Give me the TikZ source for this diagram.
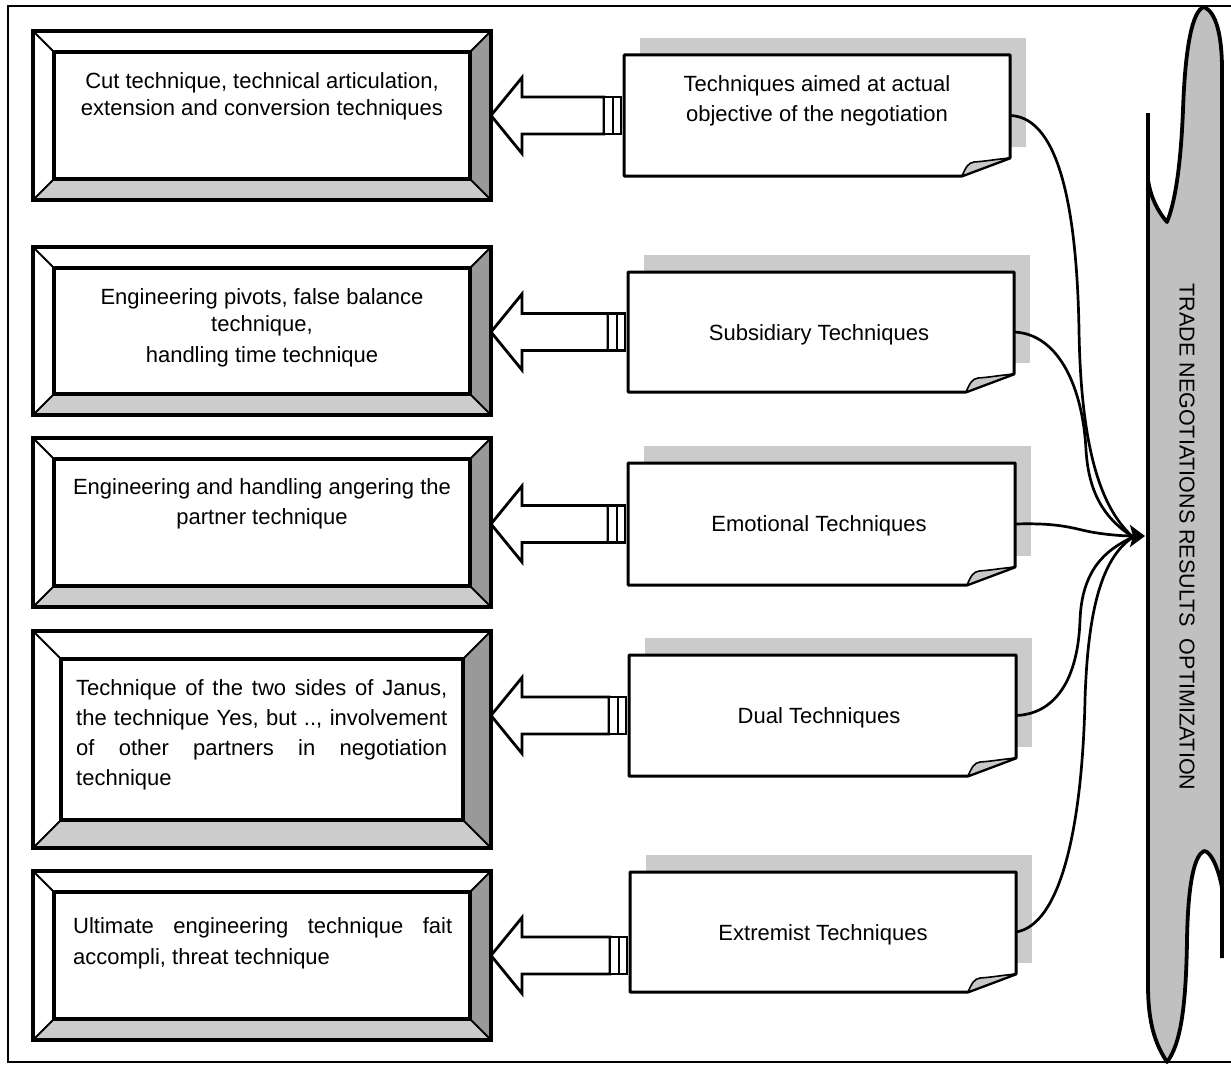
\documentclass[tikz,border=0pt]{standalone}
\usepackage{fontspec}
\setmainfont{Liberation Sans}
\usetikzlibrary{arrows.meta,calc}
\definecolor{bevdark}{HTML}{999999}
\definecolor{bevlight}{HTML}{CCCCCC}
\definecolor{scrollgray}{HTML}{C0C0C0}
\definecolor{shadowgray}{HTML}{CBCBCB}
\definecolor{foldgray}{HTML}{C8C8C8}
\tikzset{
  boxline/.style={line width=3.4pt},
  bevline/.style={line width=2pt},
  noteline/.style={line width=3pt, line join=round},
  foldline/.style={line width=1.6pt, line join=round},
  arrowline/.style={line width=2.8pt, line join=miter},
  conn/.style={line width=2.7pt},
  frameline/.style={line width=2pt},
  scrollline/.style={line width=3.8pt, line join=round},
  txt/.style={inner sep=0pt, font=\fontsize{22}{27}\selectfont},
}
\newcommand\bevbox[6]{%
  \node[inner sep=0pt, outer sep=0pt, minimum width={(#4-#2)*1pt}, minimum height={(#5-#3)*1pt}, anchor=north west, fill=white] (#1) at (#2,#3) {};
  \fill[bevdark] (#4,#3) -- (#4,#5) -- ({#4-#6},{#5-#6}) -- ({#4-#6},{#3+#6}) -- cycle;
  \fill[bevlight] (#2,#5) -- (#4,#5) -- ({#4-#6},{#5-#6}) -- ({#2+#6},{#5-#6}) -- cycle;
  \draw[bevline] (#2,#3) -- ({#2+#6},{#3+#6}) (#4,#3) -- ({#4-#6},{#3+#6})
                 (#2,#5) -- ({#2+#6},{#5-#6}) (#4,#5) -- ({#4-#6},{#5-#6});
  \draw[boxline] ({#2+#6},{#3+#6}) rectangle ({#4-#6},{#5-#6});
  \draw[boxline] (#1.north west) rectangle (#1.south east);
}
\newcommand\notebox[5]{%
  \fill[shadowgray] ({#2+16},{#3-17}) rectangle ({#4+16},{#5-29});
  \node[inner sep=0pt, outer sep=0pt, minimum width={(#4-#2)*1pt}, minimum height={(#5-#3)*1pt}, anchor=north west] (#1) at (#2,#3) {};
  \draw[noteline, fill=white] (#1.north west) -- (#1.north east) -- ($(#1.south east)+(0,-18)$)
     -- ($(#1.south east)+(-48,0)$) -- (#1.south west) -- cycle;
  \draw[foldline, fill=foldgray] ($(#1.south east)+(-48,0)$) .. controls +(4,-9) and +(-6,1) .. ($(#1.south east)+(-36,-14)$)
     .. controls +(14,-1) and +(-20,2) .. ($(#1.south east)+(0,-18)$) -- cycle;
}
\newcommand\blockarrow[2]{% #1 tip, #2 end (at middle box west)
  \draw[arrowline, fill=white] (#1) -- ++(31,-38) -- ++(0,19.5) -- ($(#2)+(-20,-18.5)$)
     -- ($(#2)+(-20,18.5)$) -- ($(#1)+(31,18.5)$) -- ++(0,19.5) -- cycle;
  \draw[arrowline, fill=white] ($(#2)+(-20,-18.5)$) rectangle ($(#2)+(-11,18.5)$);
  \draw[arrowline, fill=white] ($(#2)+(-11,-18.5)$) rectangle ($(#2)+(-3,18.5)$);
}
\begin{document}
\hyphenpenalty=10000
\exhyphenpenalty=10000
\begin{tikzpicture}[x=1pt,y=-1pt]
\useasboundingbox (0,0) rectangle (1231,1065);
% frame
\draw[frameline] (1231,6) -- (8,6) -- (8,1062) -- (1231,1062);

% left bevel boxes
\bevbox{L1}{33}{31}{491}{200}{21}
\bevbox{L2}{33}{247}{491}{415}{21}
\bevbox{L3}{33}{438}{491}{607}{21}
\bevbox{L4}{33}{631}{491}{848}{28}
\bevbox{L5}{33}{871}{491}{1040}{21}

% middle note boxes
\notebox{M1}{624}{55}{1010}{176}
\notebox{M2}{628}{272}{1014}{392}
\notebox{M3}{628}{463}{1015}{585}
\notebox{M4}{629}{655}{1016}{776}
\notebox{M5}{630}{872}{1016}{992}

% arrow coordinates
\coordinate (a1) at (L1.east |- M1.west);
\coordinate (a2) at (L2.east |- M2.west);
\coordinate (a3) at (L3.east |- M3.west);
\coordinate (a4) at (L4.east |- M4.west);
\coordinate (a5) at (L5.east);
\coordinate (b1) at (M1.west |- a1);
\coordinate (b2) at (M2.west |- a2);
\coordinate (b3) at (M3.west |- a3);
\coordinate (b4) at (M4.west |- a4);
\coordinate (b5) at (M5.west |- a5);
\blockarrow{a1}{b1}
\blockarrow{a2}{b2}
\blockarrow{a3}{b3}
\blockarrow{a4}{b4}
\blockarrow{a5}{b5}

% left texts
\node[txt, align=center, anchor=north] (T1) at (262,72)
  {Cut technique, technical articulation,\\extension and conversion techniques};
\node[txt, align=center, anchor=north] (T2) at (262,288)
  {Engineering pivots, false balance\\technique,\\[4pt]handling time technique};
\node[txt, align=center, anchor=north, font=\fontsize{22}{30}\selectfont] (T3) at (262,478)
  {Engineering and handling angering the\\partner technique};
\node[txt, align=justify, text width=371pt, anchor=north west, font=\fontsize{22}{30}\selectfont] (T4) at (76,679)
  {Technique of the two sides of Janus,\linebreak the technique Yes, but .., involvement\linebreak of other partners in negotiation\linebreak technique};
\node[txt, align=justify, text width=379pt, anchor=north west, font=\fontsize{22}{31}\selectfont] (T5) at (73,917)
  {Ultimate engineering technique fait\linebreak accompli, threat technique};

% middle texts
\node[txt, align=center, anchor=north, font=\fontsize{22}{30}\selectfont] (N1) at (817,75)
  {Techniques aimed at actual\\objective of the negotiation};
\node[txt, anchor=base] (N2) at (819,340) {Subsidiary Techniques};
\node[txt, anchor=base] (N3) at (819,531) {Emotional Techniques};
\node[txt, anchor=base] (N4) at (819,723) {Dual Techniques};
\node[txt, anchor=base] (N5) at (823,940) {Extremist Techniques};

% scroll
\fill[scrollgray] (1148,180) .. controls (1151,200) and (1160,214) .. (1167,222)
  .. controls (1176,200) and (1181,160) .. (1183,110)
  .. controls (1185,50) and (1192,10) .. (1204,7)
  .. controls (1216,12) and (1222,35) .. (1222,70)
  -- (1222,888)
  .. controls (1219,870) and (1211,851) .. (1204,851)
  .. controls (1195,855) and (1188,880) .. (1187,940)
  .. controls (1186,1010) and (1180,1045) .. (1167,1062)
  .. controls (1156,1045) and (1148,1025) .. (1148,985)
  -- cycle;
\draw[scrollline] (1148,113) -- (1148,180) .. controls (1151,200) and (1160,214) .. (1167,222)
  .. controls (1176,200) and (1181,160) .. (1183,110)
  .. controls (1185,50) and (1192,10) .. (1204,7)
  .. controls (1216,12) and (1222,35) .. (1222,70)
  -- (1222,958);
\draw[scrollline] (1148,180) -- (1148,985)
  .. controls (1148,1025) and (1156,1045) .. (1167,1062)
  .. controls (1180,1045) and (1186,1010) .. (1187,940)
  .. controls (1188,880) and (1195,855) .. (1204,851)
  .. controls (1211,851) and (1219,870) .. (1222,888);
\node[txt, rotate=-90, font=\fontsize{21.5}{26}\selectfont] (S) at (1187,537)
  {TRADE NEGOTIATIONS RESULTS\ \ OPTIMIZATION};

% connectors to hub
\coordinate (hub) at (1145,536);
\coordinate (hubin) at (1133,537);
\draw[conn] (M1.east) .. controls (1062,117) and (1077,220) .. (1079,330)
  .. controls (1081,460) and (1105,512) .. (hubin);
\draw[conn] (M2.east) .. controls (1060,334) and (1083,390) .. (1086,450)
  .. controls (1089,500) and (1110,522) .. (hubin);
\draw[conn, -{Stealth[length=15pt,width=22pt,inset=3pt]}] (M3.east) .. controls (1050,523) and (1065,526) .. (1082,530)
  .. controls (1098,534) and (1120,536) .. (hub);
\draw[conn] (M4.east) .. controls (1055,714) and (1078,680) .. (1080,620)
  .. controls (1082,570) and (1105,550) .. (hubin);
\draw[conn] (M5.east) .. controls (1060,925) and (1082,830) .. (1085,700)
  .. controls (1088,600) and (1105,556) .. (hubin);
\end{tikzpicture}
\end{document}
